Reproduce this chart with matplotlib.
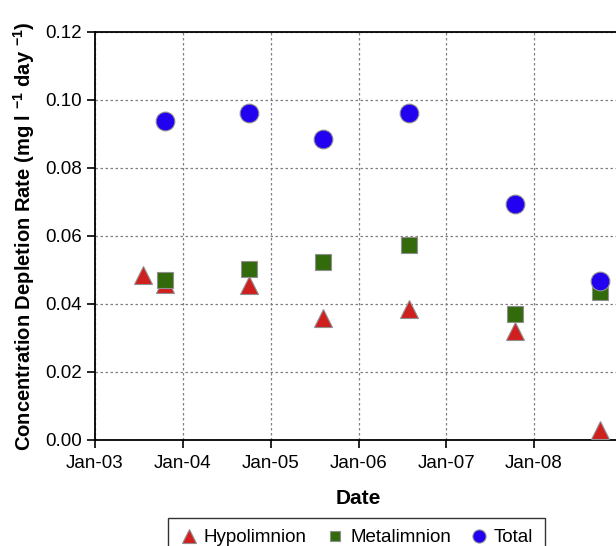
import matplotlib
matplotlib.use("Agg")
import matplotlib.pyplot as plt
import matplotlib.dates as mdates
from datetime import datetime

plt.rcParams['font.family'] = ['Liberation Sans', 'DejaVu Sans']
plt.rcParams['mathtext.fontset'] = 'custom'
plt.rcParams['mathtext.rm'] = 'Liberation Sans'
plt.rcParams['mathtext.bf'] = 'Liberation Sans:bold'

hypo_dates = ["2003-07-18", "2003-10-20", "2004-10-01", "2005-08-08", "2006-07-31", "2007-10-12", "2008-10-01"]
hypo_vals = [0.0485, 0.046, 0.0456, 0.0359, 0.0385, 0.032, 0.003]
meta_dates = ["2003-10-20", "2004-10-01", "2005-08-08", "2006-07-31", "2007-10-12", "2008-10-01"]
meta_vals = [0.047, 0.0503, 0.0524, 0.0574, 0.037, 0.0435]
total_dates = ["2003-10-20", "2004-10-01", "2005-08-08", "2006-07-31", "2007-10-12", "2008-10-01"]
total_vals = [0.0938, 0.0962, 0.0885, 0.0962, 0.0694, 0.0468]
year_ticks = ["2003-01-01", "2004-01-01", "2005-01-01", "2006-01-01", "2007-01-01", "2008-01-01"]
y_ticks = [0.00, 0.02, 0.04, 0.06, 0.08, 0.10, 0.12]

def d(lst):
    return [datetime.strptime(s, "%Y-%m-%d") for s in lst]

fig = plt.figure(figsize=(6.16, 5.46), dpi=100)
ax = fig.add_axes([95/616, 106/546, 527/616, 408/546])

ax.plot(d(hypo_dates), hypo_vals, linestyle='none', marker='^', ms=13.5,
        mfc='#D01F1F', mec='#909090', mew=0.8, label='Hypolimnion', zorder=3)
ax.plot(d(meta_dates), meta_vals, linestyle='none', marker='s', ms=11,
        mfc='#336A0C', mec='#909090', mew=0.8, label='Metalimnion', zorder=4)
ax.plot(d(total_dates), total_vals, linestyle='none', marker='o', ms=13.5,
        mfc='#2200F0', mec='#909090', mew=0.8, label='Total', zorder=5)

ax.set_xlim(datetime(2003, 1, 1), datetime(2009, 1, 1))
ax.set_ylim(0, 0.12)
ax.set_xticks(d(year_ticks))
ax.xaxis.set_major_formatter(mdates.DateFormatter('%b-%y'))
ax.set_yticks(y_ticks)
ax.set_yticklabels([f"{v:.2f}" for v in y_ticks])
ax.tick_params(axis='both', direction='out', length=6, width=1.2, labelsize=13.5, colors='black')
ax.tick_params(axis='x', pad=5)
ax.grid(True, linestyle=(0, (2, 2)), color='#808080', linewidth=0.9)
ax.set_axisbelow(True)
for s in ['left', 'bottom', 'top']:
    ax.spines[s].set_linewidth(1.3)
    ax.spines[s].set_color('black')
ax.spines['right'].set_visible(False)

ax.set_xlabel('Date', fontsize=15, fontweight='bold', labelpad=12)
ax.set_ylabel(r'Concentration Depletion Rate (mg l $\mathbf{^{-1}}$ day $\mathbf{^{-1}}$)', fontsize=14.5,
              fontweight='bold', labelpad=6)

leg = fig.legend(loc='upper center', bbox_to_anchor=(356.5/616, 1 - 518/546), ncol=3,
                 fontsize=13.5, frameon=True, fancybox=False, edgecolor='black',
                 handletextpad=0.3, columnspacing=1.0, handlelength=1.0, borderpad=0.6,
                 borderaxespad=0, markerscale=0.7)
leg.get_frame().set_linewidth(1.0)

fig.savefig('out.png', dpi=100)
